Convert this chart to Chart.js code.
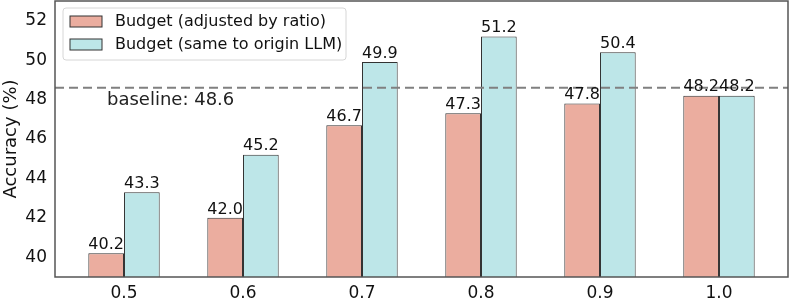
<!DOCTYPE html>
<html>
<head>
<meta charset="utf-8">
<script src="https://cdn.jsdelivr.net/npm/chart.js@4.4.1/dist/chart.umd.min.js"></script>
<style>
  html, body { margin: 0; padding: 0; background: #fff; }
  #wrap { width: 789px; height: 303px; }
</style>
</head>
<body>
<div id="wrap"><canvas id="chart" width="789" height="303"></canvas></div>
<script>
// --- data ---
const ratios = ['0.5', '0.6', '0.7', '0.8', '0.9', '1.0'];
const adjustedBudget = [40.2, 42.0, 46.7, 47.3, 47.8, 48.2];
const sameBudget = [43.3, 45.2, 49.9, 51.2, 50.4, 48.2];
const yTicks = [40, 42, 44, 46, 48, 50, 52];
const baseline = 48.6;
const seriesNames = ['Budget (adjusted by ratio)', 'Budget (same to origin LLM)'];

const FONT = '"DejaVu Sans", sans-serif';
const fillA = '#ebad9f';
const fillB = '#bde6e8';
const edge = '#333333';

// frame, baseline, value labels, legend, y title
const decor = {
  id: 'decor',
  afterDatasetsDraw(chart) {
    const { ctx, chartArea: a, scales } = chart;
    const y = scales.y;
    ctx.save();

    // baseline dashed line
    const by = y.getPixelForValue(baseline);
    ctx.strokeStyle = '#808080';
    ctx.lineWidth = 2;
    ctx.setLineDash([9, 5]);
    ctx.beginPath();
    ctx.moveTo(a.left, by);
    ctx.lineTo(a.right, by);
    ctx.stroke();
    ctx.setLineDash([]);
    ctx.fillStyle = '#222';
    ctx.font = '18px ' + FONT;
    ctx.textAlign = 'left';
    ctx.textBaseline = 'middle';
    ctx.fillText('baseline: ' + baseline.toFixed(1), 107, by + 13);

    // value labels
    ctx.font = '16px ' + FONT;
    ctx.textAlign = 'center';
    ctx.textBaseline = 'bottom';
    ctx.fillStyle = '#111';
    chart.data.datasets.forEach((ds, di) => {
      chart.getDatasetMeta(di).data.forEach((bar, i) => {
        ctx.fillText(ds.data[i].y.toFixed(1), bar.x, bar.y - 0.5);
      });
    });

    // frame
    ctx.strokeStyle = '#555';
    ctx.lineWidth = 1.5;
    ctx.strokeRect(a.left, a.top, a.right - a.left, a.bottom - a.top);

    // legend
    const lx = 63, ly = 8, lw = 283, lh = 52;
    ctx.fillStyle = 'rgba(255,255,255,0.85)';
    ctx.strokeStyle = '#d6d6d6';
    ctx.lineWidth = 1;
    ctx.beginPath();
    ctx.roundRect(lx, ly, lw, lh, 3);
    ctx.fill();
    ctx.stroke();
    const fills = [fillA, fillB];
    ctx.font = '16px ' + FONT;
    ctx.textAlign = 'left';
    ctx.textBaseline = 'middle';
    seriesNames.forEach((name, i) => {
      const ry = 22 + i * 23;
      ctx.fillStyle = fills[i];
      ctx.fillRect(70, ry - 6, 32, 11);
      ctx.strokeStyle = edge;
      ctx.strokeRect(70, ry - 6, 32, 11);
      ctx.fillStyle = '#111';
      ctx.fillText(name, 115, ry);
    });

    // y axis title
    ctx.save();
    ctx.translate(11, (a.top + a.bottom) / 2);
    ctx.rotate(-Math.PI / 2);
    ctx.textAlign = 'center';
    ctx.textBaseline = 'middle';
    ctx.font = '18px ' + FONT;
    ctx.fillStyle = '#111';
    ctx.fillText('Accuracy (%)', 0, 0);
    ctx.restore();

    ctx.restore();
  }
};

new Chart(document.getElementById('chart'), {
  type: 'bar',
  data: {
    datasets: [
      {
        label: seriesNames[0],
        data: adjustedBudget.map((v, i) => ({ x: i, y: v })),
        backgroundColor: fillA,
        borderColor: edge,
        borderWidth: 1,
        borderSkipped: false,
        categoryPercentage: 0.6,
        barPercentage: 1.0
      },
      {
        label: seriesNames[1],
        data: sameBudget.map((v, i) => ({ x: i, y: v })),
        backgroundColor: fillB,
        borderColor: edge,
        borderWidth: 1,
        borderSkipped: false,
        categoryPercentage: 0.6,
        barPercentage: 1.0
      }
    ]
  },
  options: {
    responsive: false,
    animation: false,
    layout: { padding: { top: 1, right: 1, left: 0, bottom: 0 } },
    plugins: {
      legend: { display: false },
      tooltip: { enabled: false }
    },
    scales: {
      x: {
        type: 'linear',
        offset: false,
        min: -0.58,
        max: 5.58,
        grid: { display: false, drawTicks: false },
        border: { display: false },
        afterBuildTicks: s => { s.ticks = ratios.map((_, i) => ({ value: i })); },
        afterFit: s => { s.height = 26; s.paddingLeft = 0; s.paddingRight = 0; },
        ticks: {
          callback: v => ratios[v],
          color: '#111',
          font: { family: FONT, size: 17 },
          padding: 6,
          maxRotation: 0
        }
      },
      y: {
        min: 39,
        max: 53,
        grid: { display: false, drawTicks: false },
        border: { display: false },
        afterBuildTicks: s => { s.ticks = yTicks.map(v => ({ value: v })); },
        afterFit: s => { s.width = 55; s.paddingTop = 0; s.paddingBottom = 0; },
        ticks: {
          color: '#111',
          font: { family: FONT, size: 17 },
          padding: 8
        }
      }
    }
  },
  plugins: [decor]
});
</script>
</body>
</html>
